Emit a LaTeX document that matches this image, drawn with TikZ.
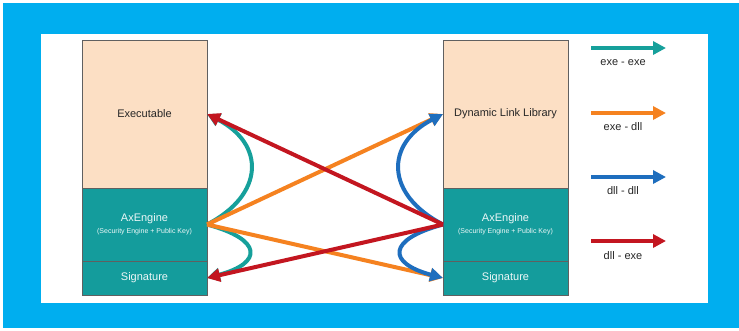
\documentclass[tikz,border=0pt]{standalone}
\usepackage{fontspec}
\setmainfont{Liberation Sans}
\usetikzlibrary{positioning, arrows.meta}

\definecolor{frameblue}{RGB}{0,174,239}
\definecolor{peach}{RGB}{252,223,196}
\definecolor{tealbox}{RGB}{20,156,156}
\definecolor{exeexe}{RGB}{22,160,155}
\definecolor{exedll}{RGB}{245,130,32}
\definecolor{dlldll}{RGB}{30,110,190}
\definecolor{dllexe}{RGB}{195,22,32}

\tikzset{
    part/.style={draw=gray!75!black, line width=0.8pt, minimum width=125pt,
        outer sep=0pt, inner sep=0pt, font=\fontsize{11}{13}\selectfont},
    code/.style={part, fill=peach, text=black!85, minimum height=148pt},
    engine/.style={part, fill=tealbox, text=white!92!tealbox, minimum height=73pt, align=center},
    sign/.style={part, fill=tealbox, text=white!92!tealbox, minimum height=34pt},
    link/.style={line width=4pt, -{Triangle[length=13pt, width=13pt]}},
    key/.style={font=\fontsize{11}{13}\selectfont, text=black!85}
}

\begin{document}
\begin{tikzpicture}[x=1pt, y=-1pt]
    \useasboundingbox (0, 0) rectangle (739, 330);
    \fill[white] (0, 0) rectangle (739, 330);
    \fill[frameblue] (3, 3) rectangle (739, 328);
    \fill[white] (41, 34) rectangle (708, 303);

    % executable side
    \node[code] (lexe) at (144.5, 114) {Executable};
    \node[engine, below=0pt of lexe] (leng) {AxEngine\\[-1pt]{\fontsize{7}{8}\selectfont (Security Engine + Public Key)}};
    \node[sign, below=0pt of leng] (lsig) {Signature};

    % library side
    \node[code] (rexe) at (505.5, 114) {Dynamic Link Library};
    \node[engine, below=0pt of rexe] (reng) {AxEngine\\[-1pt]{\fontsize{7}{8}\selectfont (Security Engine + Public Key)}};
    \node[sign, below=0pt of reng] (rsig) {Signature};

    % exe - exe
    \draw[link, exeexe] (leng.east) .. controls +(58, -30) and +(58, 30) .. (lexe.east);
    \draw[link, exeexe] (leng.east) .. controls +(56, 15) and +(56, -15) .. (lsig.east);

    % exe - dll
    \draw[link, exedll] (leng.east) -- (rexe.west);
    \draw[link, exedll] (leng.east) -- (rsig.west);

    % dll - dll
    \draw[link, dlldll] (reng.west) .. controls +(-58, -30) and +(-58, 30) .. (rexe.west);
    \draw[link, dlldll] (reng.west) .. controls +(-56, 15) and +(-56, -15) .. (rsig.west);

    % dll - exe
    \draw[link, dllexe] (reng.west) -- (lexe.east);
    \draw[link, dllexe] (reng.west) -- (lsig.east);

    % legend
    \coordinate (k1a) at (591, 48);
    \coordinate (k1b) at (666, 48);
    \coordinate (k2a) at (591, 113);
    \coordinate (k2b) at (666, 113);
    \coordinate (k3a) at (591, 177);
    \coordinate (k3b) at (666, 177);
    \coordinate (k4a) at (591, 241);
    \coordinate (k4b) at (666, 241);
    \draw[link, exeexe] (k1a) -- (k1b);
    \draw[link, exedll] (k2a) -- (k2b);
    \draw[link, dlldll] (k3a) -- (k3b);
    \draw[link, dllexe] (k4a) -- (k4b);
    \node[key] (k1) at (623, 63) {exe - exe};
    \node[key] (k2) at (623, 127) {exe - dll};
    \node[key] (k3) at (623, 191) {dll - dll};
    \node[key] (k4) at (623, 256) {dll - exe};
\end{tikzpicture}
\end{document}
